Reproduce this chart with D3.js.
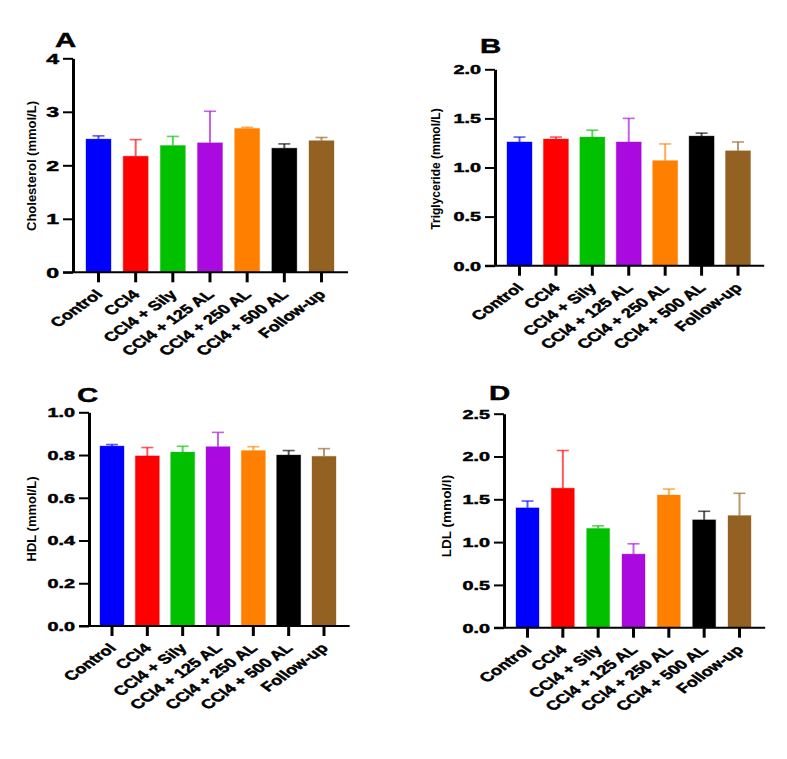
<!DOCTYPE html>
<html>
  <head>
    <meta charset="utf-8">
    <title>Lipid profile</title>
    <script src="https://d3js.org/d3.v7.min.js"></script>
    <style>
      body { margin: 0; background: #fff; }
      svg { display: block; font-family: "Liberation Sans", Arial, sans-serif; }
      .heavy { font-family: "Liberation Sans", Arial, sans-serif; font-weight: bold; stroke: #000; stroke-width: 0.45px; }
    </style>
  </head>
  <body>
    <svg id="chart" width="787" height="759"></svg>
    <script>
      // groups and colours
      const groups = ["Control", "CCl4", "CCl4 + Sily", "CCl4 + 125 AL", "CCl4 + 250 AL", "CCl4 + 500 AL", "Follow-up"];
      const colors = ["#0000ff", "#ff0000", "#00c000", "#aa0ae0", "#ff8000", "#000000", "#936121"];
      // means and SEM
      const cholesterol = [2.49, 2.17, 2.37, 2.42, 2.69, 2.32, 2.46];
      const cholesterolSem = [0.06, 0.31, 0.17, 0.59, 0.02, 0.08, 0.06];
      const triglyceride = [1.26, 1.29, 1.31, 1.26, 1.07, 1.32, 1.17];
      const triglycerideSem = [0.05, 0.02, 0.07, 0.24, 0.17, 0.03, 0.09];
      const hdl = [0.842, 0.796, 0.814, 0.839, 0.821, 0.800, 0.794];
      const hdlSem = [0.007, 0.039, 0.027, 0.067, 0.018, 0.021, 0.036];
      const ldl = [1.40, 1.63, 1.16, 0.86, 1.55, 1.26, 1.31];
      const ldlSem = [0.08, 0.44, 0.03, 0.12, 0.07, 0.10, 0.26];
      // tick values
      const cholTicks = [0, 1, 2, 3, 4];
      const trigTicks = [0, 0.5, 1, 1.5, 2];
      const hdlTicks = [0, 0.2, 0.4, 0.6, 0.8, 1];
      const ldlTicks = [0, 0.5, 1, 1.5, 2, 2.5];

      const stretch = 1.4; // the figure is widened horizontally
      const tickStretch = 1.65;
      const svg = d3.select("#chart");

      const panels = [
        { letter: "A", values: cholesterol, sem: cholesterolSem, ticks: cholTicks, fmt: d3.format("d"),
          title: "Cholesterol (mmol/L)", axisX: 73, yTop: 58.3, yBottom: 272.3, first: 98.5, last: 321.5, barW: 25,
          titleX: 31, titleY: 166, titleSize: 13, tickSize: 14, letterX: 55, letterY: 47 },
        { letter: "B", values: triglyceride, sem: triglycerideSem, ticks: trigTicks, fmt: d3.format(".1f"),
          title: "Triglyceride (mmol/L)", axisX: 495, yTop: 69.3, yBottom: 265.7, first: 519.5, last: 738, barW: 25,
          titleX: 436, titleY: 169, titleSize: 12, tickSize: 12, letterX: 480, letterY: 53 },
        { letter: "C", values: hdl, sem: hdlSem, ticks: hdlTicks, fmt: d3.format(".1f"),
          title: "HDL (mmol/L)", axisX: 89, yTop: 412.3, yBottom: 626, first: 112, last: 324, barW: 24,
          titleX: 31, titleY: 519, titleSize: 13, tickSize: 12, letterX: 77, letterY: 402 },
        { letter: "D", values: ldl, sem: ldlSem, ticks: ldlTicks, fmt: d3.format(".1f"),
          title: "LDL (mmol/l)", axisX: 504, yTop: 413.7, yBottom: 627.7, first: 527.5, last: 739.5, barW: 23,
          titleX: 446, titleY: 516, titleSize: 13.5, tickSize: 12, letterX: 489, letterY: 400 }
      ];

      panels.forEach(drawPanel);

      function drawPanel(p) {
        const g = svg.append("g");
        const y = d3.scaleLinear()
          .domain([0, d3.max(p.ticks)])
          .range([p.yBottom, p.yTop]);
        const step = (p.last - p.first) / (groups.length - 1);
        const pad = 1 - p.barW / step;
        const x = d3.scaleBand()
          .domain(groups)
          .range([p.first - step / 2, p.last + step / 2])
          .paddingInner(pad)
          .paddingOuter(pad / 2);
        const rows = groups.map(function(d, i) {
          return { group: d, value: p.values[i], sem: p.sem[i], color: colors[i] };
        });

        // error bars (upper only)
        const err = g.selectAll(".err")
          .data(rows)
          .join("g")
            .attr("class", "err")
            .attr("stroke", function(d) { return d.color; })
            .attr("stroke-opacity", 0.65);
        err.append("line")
          .attr("x1", function(d) { return x(d.group) + x.bandwidth() / 2; })
          .attr("x2", function(d) { return x(d.group) + x.bandwidth() / 2; })
          .attr("y1", function(d) { return y(d.value); })
          .attr("y2", function(d) { return y(d.value + d.sem); })
          .attr("stroke-width", 2);
        err.append("line")
          .attr("x1", function(d) { return x(d.group) + x.bandwidth() / 2 - 6; })
          .attr("x2", function(d) { return x(d.group) + x.bandwidth() / 2 + 6; })
          .attr("y1", function(d) { return y(d.value + d.sem); })
          .attr("y2", function(d) { return y(d.value + d.sem); })
          .attr("stroke-width", 1.6);

        // bars
        g.selectAll(".bar")
          .data(rows)
          .join("rect")
            .attr("class", "bar")
            .attr("x", function(d) { return x(d.group); })
            .attr("y", function(d) { return y(d.value); })
            .attr("width", x.bandwidth())
            .attr("height", function(d) { return y(0) - y(d.value); })
            .attr("fill", function(d) { return d.color; })
            .attr("stroke", function(d) { return d.color; })
            .attr("stroke-opacity", 0.35)
            .attr("stroke-width", 1);

        // y axis
        const yAxis = g.append("g")
          .attr("transform", "translate(" + p.axisX + ",0)")
          .call(d3.axisLeft(y).tickValues(p.ticks).tickSize(10).tickSizeOuter(0).tickFormat(p.fmt));
        yAxis.attr("font-family", null).attr("font-size", null);
        yAxis.select(".domain").attr("stroke-width", 3);
        yAxis.selectAll(".tick line").attr("stroke-width", 2);
        yAxis.selectAll(".tick text")
          .attr("class", "heavy")
          .attr("x", null)
          .attr("dy", "0.36em")
          .attr("transform", "translate(-14,0) scale(" + tickStretch + ",1)")
          .attr("font-size", p.tickSize)
          .attr("fill", "#000");

        // x axis
        g.append("line")
          .attr("x1", p.axisX - 10)
          .attr("x2", x.range()[1] + 8)
          .attr("y1", y(0))
          .attr("y2", y(0))
          .attr("stroke", "#000")
          .attr("stroke-width", 2);
        const xAxis = g.append("g")
          .attr("transform", "translate(0," + y(0) + ")")
          .call(d3.axisBottom(x).tickSize(10).tickSizeOuter(0));
        xAxis.attr("font-family", null).attr("font-size", null);
        xAxis.select(".domain").remove();
        xAxis.selectAll(".tick line").attr("stroke-width", 3);
        xAxis.selectAll(".tick text")
          .attr("class", "heavy")
          .attr("y", 0)
          .attr("dy", null)
          .attr("text-anchor", "end")
          .attr("transform", "translate(5,23) scale(" + stretch + ",1) rotate(-45)")
          .attr("font-size", 13)
          .attr("fill", "#000");

        // axis title
        g.append("text")
          .attr("transform", "translate(" + (p.titleX + p.titleSize * 0.36) + "," + p.titleY + ") rotate(-90)")
          .attr("text-anchor", "middle")
          .attr("font-size", p.titleSize)
          .attr("font-weight", "bold")
          .text(p.title);

        // panel letter
        g.append("text")
          .attr("class", "heavy")
          .attr("transform", "translate(" + p.letterX + "," + p.letterY + ") scale(" + stretch + ",1)")
          .attr("font-size", 21)
          .text(p.letter);
      }
    </script>
  </body>
</html>
